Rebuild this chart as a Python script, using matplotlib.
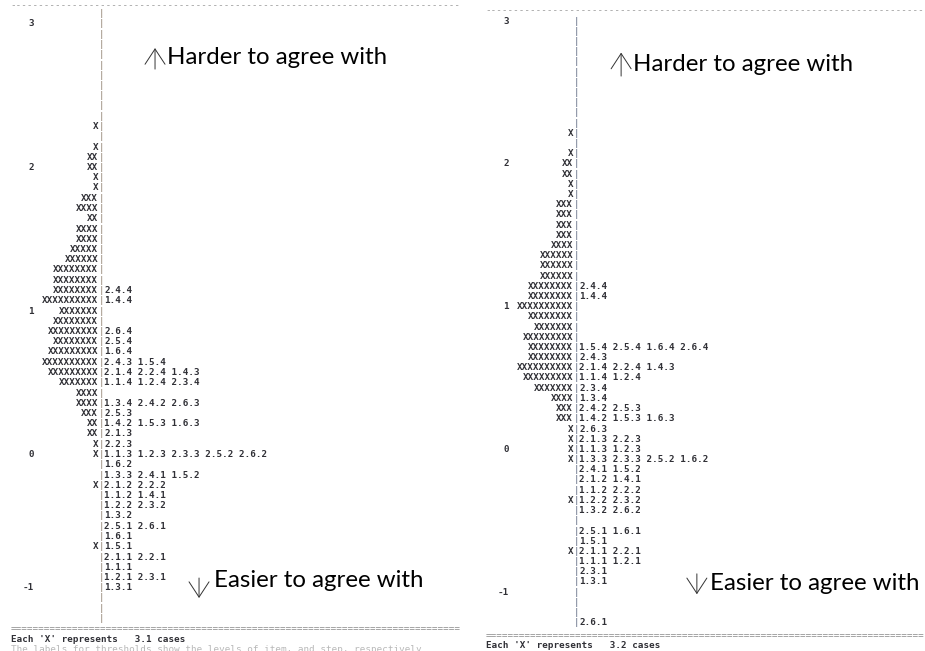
import matplotlib
matplotlib.use('Agg')
import matplotlib.pyplot as plt

# ---- data: two ConQuest-style Wright maps (row by row, top to bottom) ----
# number of 'X' on the left of the bar
left_x = [0] * 11 + [1, 0, 1, 2, 2, 1, 1, 3, 4, 2, 4, 4, 5, 6, 8, 8, 8, 10, 7, 8,
                     9, 8, 9, 10, 9, 7, 4, 4, 3, 2, 2, 1, 1, 0, 0, 1, 0, 0, 0, 0,
                     0, 1] + [0] * 7
# item thresholds on the right of the bar
left_items = [''] * 27 + [
    '2.4.4', '1.4.4', '', '', '2.6.4', '2.5.4', '1.6.4', '2.4.3 1.5.4',
    '2.1.4 2.2.4 1.4.3', '1.1.4 1.2.4 2.3.4', '', '1.3.4 2.4.2 2.6.3', '2.5.3',
    '1.4.2 1.5.3 1.6.3', '2.1.3', '2.2.3', '1.1.3 1.2.3 2.3.3 2.5.2 2.6.2',
    '1.6.2', '1.3.3 2.4.1 1.5.2', '2.1.2 2.2.2', '1.1.2 1.4.1', '1.2.2 2.3.2',
    '1.3.2', '2.5.1 2.6.1', '1.6.1', '1.5.1', '2.1.1 2.2.1', '1.1.1',
    '1.2.1 2.3.1', '1.3.1'] + [''] * 3
left_logits = [3, 2, 1, 0, -1]
left_logit_rows = [1, 15, 29, 43, 56]
left_cases = '3.1'

right_x = [0] * 11 + [1, 0, 1, 2, 2, 1, 1, 3, 3, 3, 3, 4, 6, 6, 6, 8, 8, 10, 8, 7,
                      9, 8, 8, 10, 9, 7, 4, 3, 3, 1, 1, 1, 1, 0, 0, 0, 1, 0, 0, 0,
                      0, 1] + [0] * 7
right_items = [''] * 26 + [
    '2.4.4', '1.4.4', '', '', '', '', '1.5.4 2.5.4 1.6.4 2.6.4', '2.4.3',
    '2.1.4 2.2.4 1.4.3', '1.1.4 1.2.4', '2.3.4', '1.3.4', '2.4.2 2.5.3',
    '1.4.2 1.5.3 1.6.3', '2.6.3', '2.1.3 2.2.3', '1.1.3 1.2.3',
    '1.3.3 2.3.3 2.5.2 1.6.2', '2.4.1 1.5.2', '2.1.2 1.4.1', '1.1.2 2.2.2',
    '1.2.2 2.3.2', '1.3.2 2.6.2', '', '2.5.1 1.6.1', '1.5.1', '2.1.1 2.2.1',
    '1.1.1 1.2.1', '2.3.1', '1.3.1', '', '', '', '2.6.1']
right_logits = [3, 2, 1, 0, -1]
right_logit_rows = [0, 14, 28, 42, 56]
right_cases = '3.2'

# ---- layout (pixels) ----
W, H = 925, 651
CHAR_W = 5.57
MONO = 'DejaVu Sans Mono'
FS = 6.7
WT = 'bold'
TXT = '#303036'
ANN_FONT = 'Lato'
ANN_FS = 17.3

fig = plt.figure(figsize=(W / 100, H / 100), dpi=100)


def make_axes(x0_px, x1_px, bar_px, row0_px, row_h):
    # axes in "character column" x "row" units, mapped onto a pixel strip
    ax = fig.add_axes([x0_px / W, 0, (x1_px - x0_px) / W, 1])
    ax.set_xlim((x0_px - bar_px) / CHAR_W, (x1_px - bar_px) / CHAR_W)
    ax.set_ylim((H - row0_px) / row_h, -row0_px / row_h)
    ax.axis('off')
    return ax


def draw_map(ax, xs, items, logits, logit_rows, cases, bar_color, rule_len,
             dash_row, foot_shift):
    n = len(xs)
    for r in range(n):
        ax.text(0, r, '|', ha='center', va='center', family=MONO, fontsize=FS,
                color=bar_color)
        if xs[r]:
            ax.text(-0.5, r, 'X' * xs[r], ha='right', va='center', family=MONO,
                    fontsize=FS, fontweight=WT, color=TXT)
        if items[r]:
            ax.text(0.6, r, items[r], ha='left', va='center', family=MONO,
                    fontsize=FS, fontweight=WT, color=TXT)
    for v, r in zip(logits, logit_rows):
        ax.text(-12, r, str(v), ha='right', va='center', family=MONO,
                fontsize=FS, fontweight=WT, color=TXT)
    ax.text(-16.2, dash_row, '-' * rule_len, ha='left', va='center',
            family=MONO, fontsize=FS, color='#9a9a9a')
    ax.text(-16.2, n + foot_shift, '=' * rule_len, ha='left', va='center',
            family=MONO, fontsize=FS, color='#8a8a8a')
    ax.text(-16.2, n + 1 + foot_shift, f"Each 'X' represents   {cases} cases",
            ha='left', va='center', family=MONO, fontsize=FS, fontweight=WT,
            color=TXT)


def arrow_note(ax, x_arrow, y_from, y_to, x_text, y_text, label):
    ax.annotate('', xy=(x_arrow, y_to), xytext=(x_arrow, y_from),
                arrowprops=dict(arrowstyle='->,head_length=1.1,head_width=0.72',
                                lw=0.7, color='#333333', shrinkA=0, shrinkB=0,
                                mutation_scale=10))
    ax.text(x_text, y_text, label, ha='left', va='baseline', family=ANN_FONT,
            fontsize=ANN_FS, color='black')


# left map: bar at x=101px, row 0 at y=13.75px, 10.25px per row
axl = make_axes(0, 460, 101, 13.75, 10.25)
draw_map(axl, left_x, left_items, left_logits, left_logit_rows, left_cases,
         '#8a7a68', 80, -0.75, 0)
axl.text(-16.2, 62, 'The labels for thresholds show the levels of item, and step, respectively',
         ha='left', va='center', family=MONO, fontsize=FS, color='#b8b8b8')
arrow_note(axl, 9.7, 5.4, 3.35, 11.9, 4.9, 'Harder to agree with')
arrow_note(axl, 17.6, 55.05, 57.0, 20.3, 55.93, 'Easier to agree with')

# right map: bar at x=576px, row 0 at y=21px, 10.2px per row
axr = make_axes(460, 925, 576, 21, 10.2)
draw_map(axr, right_x, right_items, right_logits, right_logit_rows, right_cases,
         '#55607a', 78, -1.05, 0.25)
arrow_note(axr, 8.1, 5.4, 3.1, 10.2, 4.9, 'Harder to agree with')
arrow_note(axr, 21.7, 54.2, 56.2, 24.1, 55.8, 'Easier to agree with')

fig.savefig('out.png', dpi=100)
